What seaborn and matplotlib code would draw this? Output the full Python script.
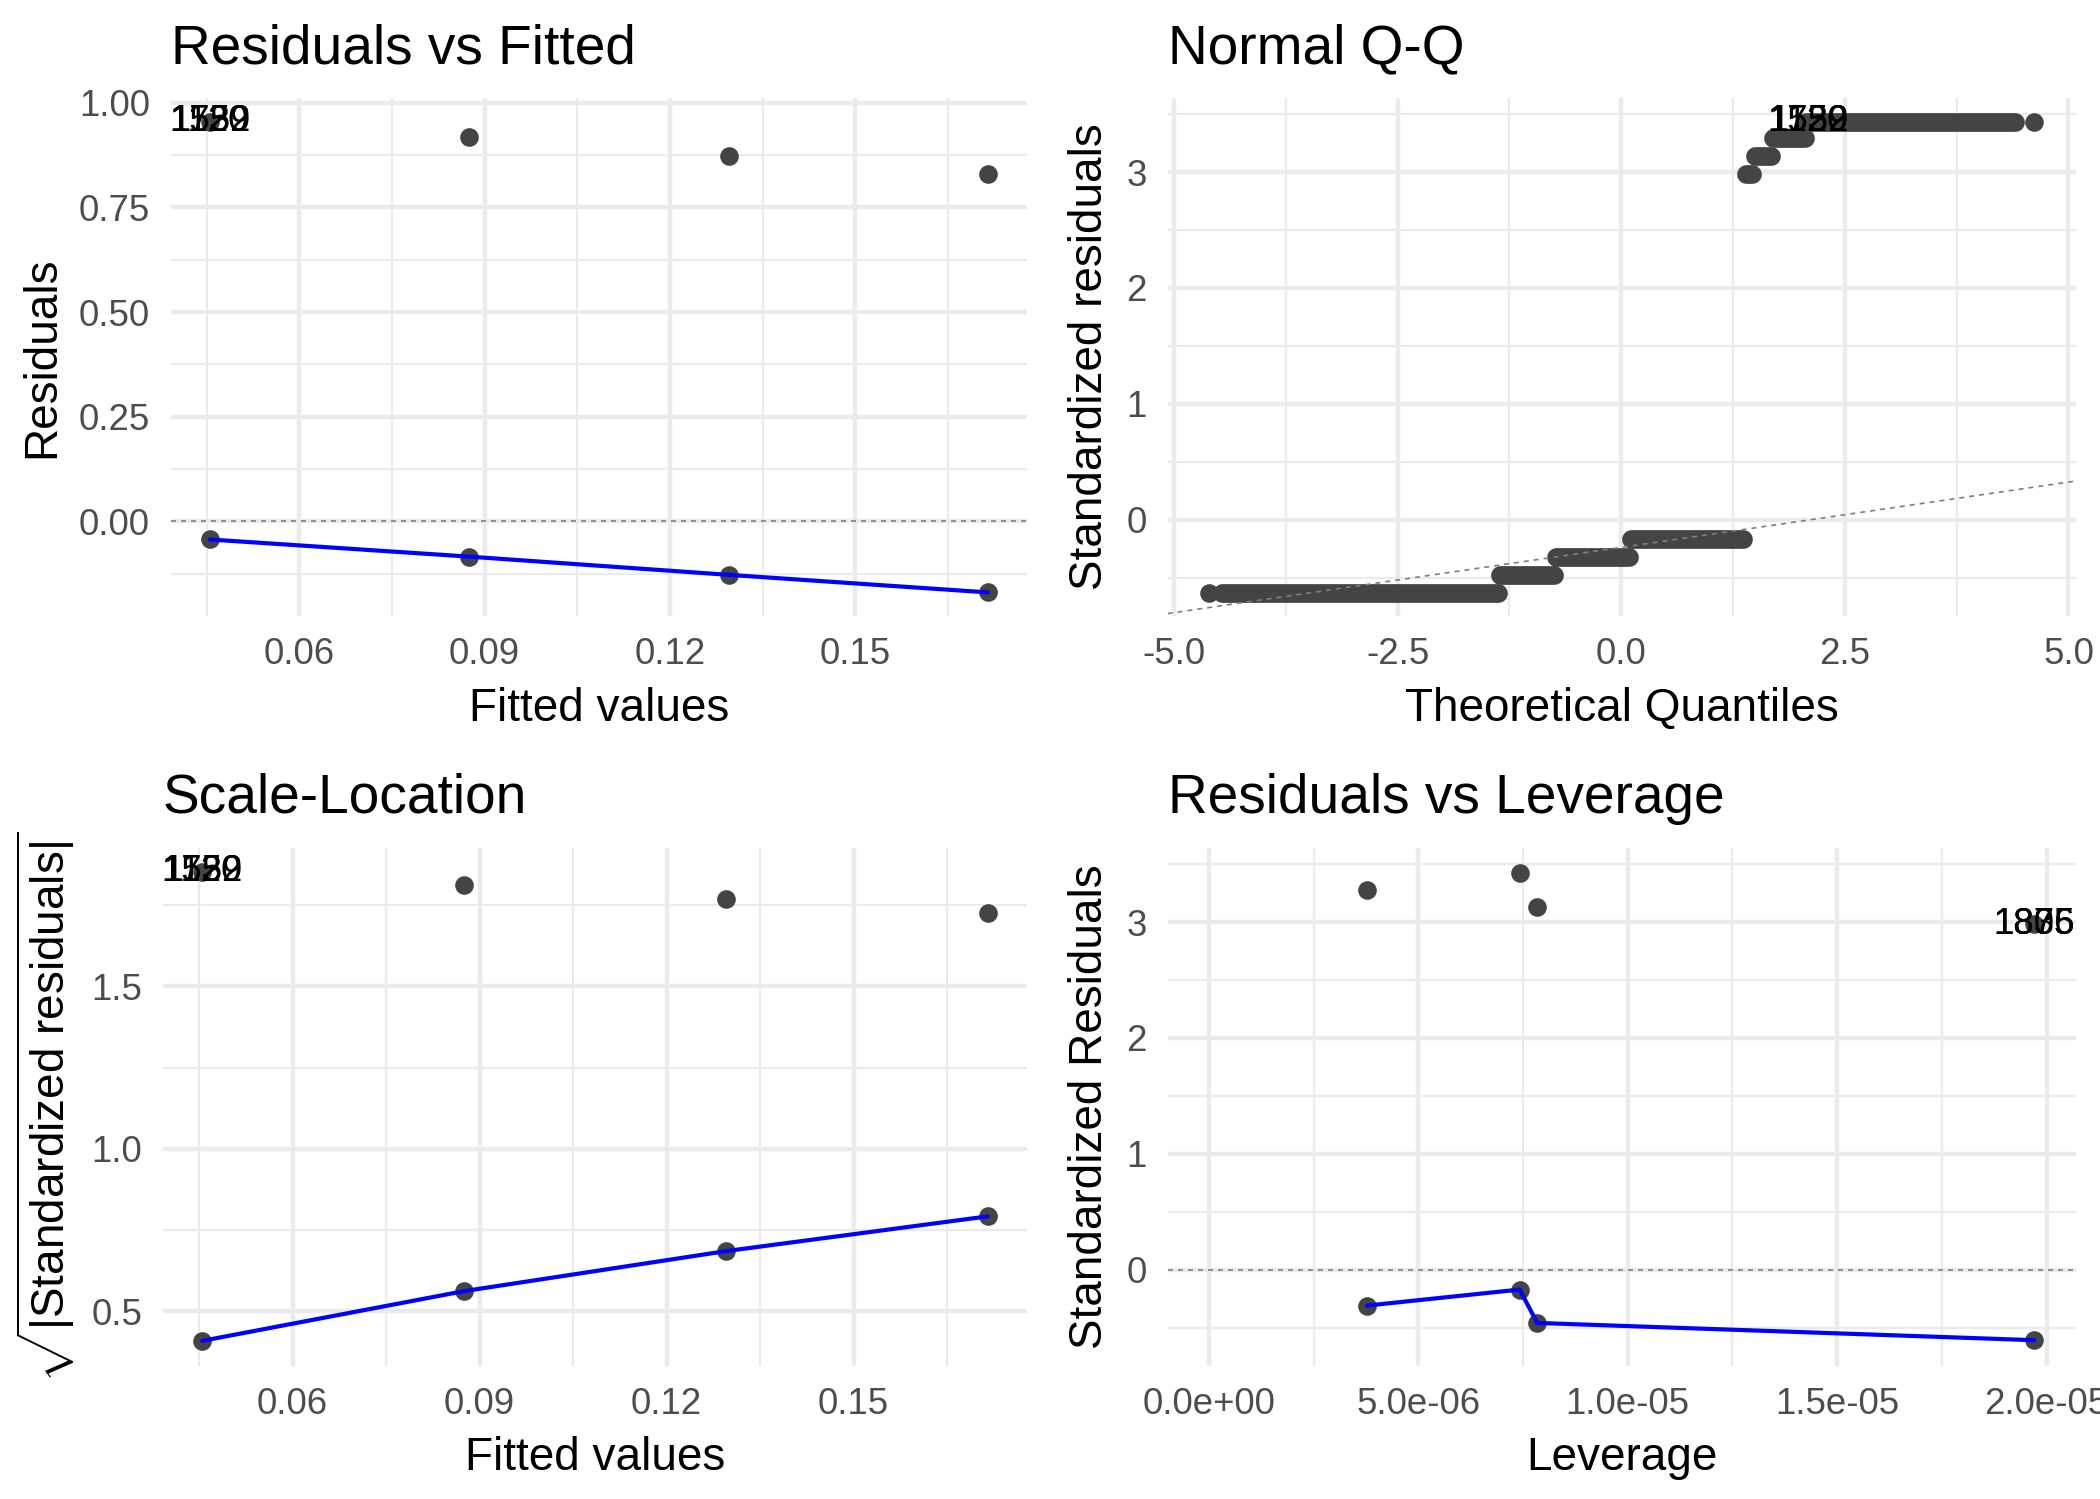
import pandas as pd
import seaborn as sns
import matplotlib.pyplot as plt
from matplotlib.ticker import FixedLocator, FuncFormatter

# values
fitted = [0.0455, 0.0875, 0.1295, 0.1715]
resid_low = [-0.0435, -0.0845, -0.128, -0.170]
resid_high = [0.955, 0.918, 0.873, 0.829]
labels_top = ["1752", "1539", "1120"]

qq_band_y = [-0.629, -0.475, -0.320, -0.163, 2.982, 3.137, 3.290, 3.436]
qq_band_start = [-4.46, -1.36, -0.73, 0.11, 1.40, 1.50, 1.70, 2.07]
qq_band_end = [-1.38, -0.75, 0.09, 1.36, 1.46, 1.68, 2.05, 4.40]
qq_single_x = [-4.61, 4.62]
qq_single_y = [-0.629, 3.436]
qq_label_x = 2.09
qq_line_intercept = -0.239
qq_line_slope = 0.1127

sl_low = [0.409, 0.562, 0.685, 0.792]
sl_high = [1.853, 1.811, 1.770, 1.724]

leverage = [3.78e-6, 7.42e-6, 7.84e-6, 1.971e-5]
lev_low = [-0.310, -0.172, -0.460, -0.609]
lev_high = [3.276, 3.425, 3.126, 2.982]
labels_lev = ["1805", "1836", "1875"]

sns.set_style("white")
plt.rcParams["font.family"] = ["Liberation Sans", "DejaVu Sans"]
plt.rcParams["mathtext.fontset"] = "custom"
plt.rcParams["mathtext.rm"] = "Liberation Sans"
plt.rcParams["mathtext.it"] = "Liberation Sans:italic"
plt.rcParams["text.color"] = "black"

PT = "#444444"
GRID = "#EBEBEB"
SIZE = 20

fig = plt.figure(figsize=(7, 1499 / 300), dpi=300)
ax1 = fig.add_axes([0.0814, 0.589, 0.4076, 0.3456])
ax2 = fig.add_axes([0.556, 0.589, 0.4324, 0.3456])
ax3 = fig.add_axes([0.0776, 0.0887, 0.4114, 0.3456])
ax4 = fig.add_axes([0.556, 0.0887, 0.4324, 0.3456])


def style(ax, title, xlabel, ylabel, xmaj, ymaj, xfmt, yfmt):
    for s in ax.spines.values():
        s.set_visible(False)
    xmin = [(a + b) / 2 for a, b in zip(xmaj[:-1], xmaj[1:])]
    ymin = [(a + b) / 2 for a, b in zip(ymaj[:-1], ymaj[1:])]
    xmin = [xmaj[0] - (xmaj[1] - xmaj[0]) / 2] + xmin + [xmaj[-1] + (xmaj[1] - xmaj[0]) / 2]
    ymin = [ymaj[0] - (ymaj[1] - ymaj[0]) / 2] + ymin + [ymaj[-1] + (ymaj[1] - ymaj[0]) / 2]
    ax.xaxis.set_major_locator(FixedLocator(xmaj))
    ax.yaxis.set_major_locator(FixedLocator(ymaj))
    ax.xaxis.set_minor_locator(FixedLocator(xmin))
    ax.yaxis.set_minor_locator(FixedLocator(ymin))
    ax.xaxis.set_major_formatter(FuncFormatter(xfmt))
    ax.yaxis.set_major_formatter(FuncFormatter(yfmt))
    ax.grid(True, which="major", color=GRID, lw=1.07)
    ax.grid(True, which="minor", color=GRID, lw=0.53)
    ax.set_axisbelow(True)
    ax.tick_params(which="both", length=0, labelsize=8.8, labelcolor="#4D4D4D")
    ax.tick_params(axis="x", pad=5)
    ax.tick_params(axis="y", pad=5)
    ax.set_xlabel(xlabel, fontsize=11, color="black", labelpad=3.5)
    ax.set_ylabel(ylabel, fontsize=11, color="black", labelpad=3.5)
    ax.set_title(title, loc="left", fontsize=13.2, pad=8.4, color="black")


def labels(ax, x, y, texts):
    for t in texts:
        ax.text(x, y, t, fontsize=8.8, ha="center", va="center", color="black")


# Residuals vs Fitted
d1 = pd.DataFrame({"x": fitted * 2, "y": resid_low + resid_high})
ax1.axhline(0, color="#7F7F7F", lw=0.4, ls=(0, (3, 3)))
sns.scatterplot(data=d1, x="x", y="y", ax=ax1, color=PT, s=SIZE, linewidth=0)
sns.lineplot(x=fitted, y=resid_low, ax=ax1, color="blue", lw=1.0)
labels(ax1, fitted[0], resid_high[0], labels_top)
ax1.set_xlim(0.0392, 0.1778)
ax1.set_ylim(-0.2266, 1.0116)
style(ax1, "Residuals vs Fitted", "Fitted values", "Residuals",
      [0.06, 0.09, 0.12, 0.15], [0.0, 0.25, 0.5, 0.75, 1.0],
      lambda v, p: f"{v:.2f}", lambda v, p: f"{v:.2f}")

# Normal Q-Q
bands = pd.DataFrame({
    "x": qq_band_start + qq_band_end,
    "y": qq_band_y + qq_band_y,
    "band": list(range(len(qq_band_y))) * 2,
})
sns.lineplot(data=bands, x="x", y="y", units="band", estimator=None, ax=ax2,
             color=PT, lw=4.5, solid_capstyle="round", sort=False)
sns.scatterplot(x=qq_single_x, y=qq_single_y, ax=ax2, color=PT, s=SIZE, linewidth=0)
ax2.axline((0, qq_line_intercept), slope=qq_line_slope, color="#7F7F7F", lw=0.4,
           ls=(0, (3, 3)))
labels(ax2, qq_label_x, qq_band_y[-1], labels_top)
ax2.set_xlim(-5.07, 5.08)
ax2.set_ylim(-0.832, 3.639)
style(ax2, "Normal Q-Q", "Theoretical Quantiles", "Standardized residuals",
      [-5.0, -2.5, 0.0, 2.5, 5.0], [0, 1, 2, 3],
      lambda v, p: f"{v:.1f}", lambda v, p: f"{v:.0f}")

# Scale-Location
d3 = pd.DataFrame({"x": fitted * 2, "y": sl_low + sl_high})
sns.scatterplot(data=d3, x="x", y="y", ax=ax3, color=PT, s=SIZE, linewidth=0)
sns.lineplot(x=fitted, y=sl_low, ax=ax3, color="blue", lw=1.0)
labels(ax3, fitted[0], sl_high[0], labels_top)
ax3.set_xlim(0.0392, 0.1778)
ax3.set_ylim(0.3315, 1.9255)
style(ax3, "Scale-Location", "Fitted values",
      r"$\sqrt{|\mathrm{Standardized\ residuals}|}$",
      [0.06, 0.09, 0.12, 0.15], [0.5, 1.0, 1.5],
      lambda v, p: f"{v:.2f}", lambda v, p: f"{v:.1f}")

# Residuals vs Leverage
d4 = pd.DataFrame({"x": leverage * 2, "y": lev_low + lev_high})
ax4.axhline(0, color="#7F7F7F", lw=0.4, ls=(0, (3, 3)))
sns.scatterplot(data=d4, x="x", y="y", ax=ax4, color=PT, s=SIZE, linewidth=0)
sns.lineplot(x=leverage, y=lev_low, ax=ax4, color="blue", lw=1.0, sort=True)
labels(ax4, leverage[-1], lev_high[-1], labels_lev)
ax4.set_xlim(-0.0000009855, 0.0000206955)
ax4.set_ylim(-0.832, 3.639)
style(ax4, "Residuals vs Leverage", "Leverage", "Standardized Residuals",
      [0, 5e-6, 1e-5, 1.5e-5, 2e-5], [0, 1, 2, 3],
      lambda v, p: f"{v:.1e}", lambda v, p: f"{v:.0f}")

fig.savefig("out.png", dpi=300, facecolor="white")
